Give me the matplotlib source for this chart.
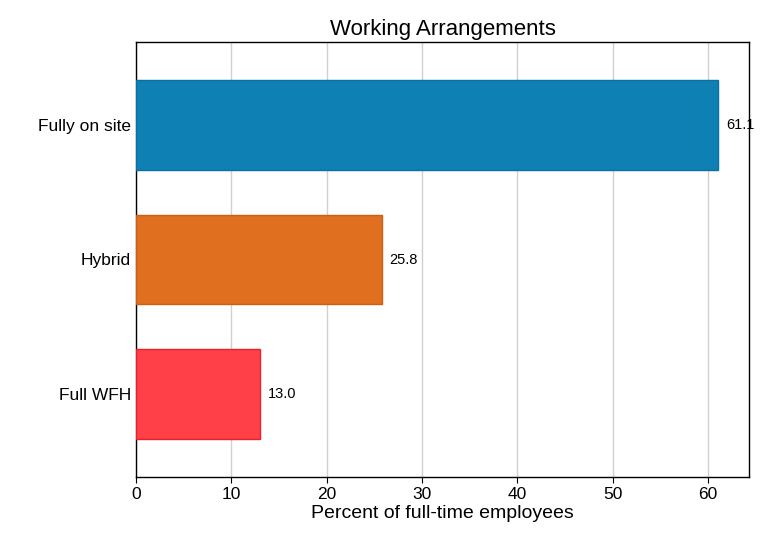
import matplotlib
matplotlib.use("Agg")
import matplotlib.pyplot as plt

plt.rcParams["font.family"] = "Liberation Sans"

categories = ["Full WFH", "Hybrid", "Fully on site"]
values = [13.0, 25.8, 61.1]
colors = ["#FF4048", "#E07020", "#0F80B4"]
edges = ["#E8202A", "#C86018", "#0A70A0"]
xticks = [0, 10, 20, 30, 40, 50, 60]

fig = plt.figure(figsize=(7.63, 5.42), dpi=100)
ax = fig.add_axes([136/763, 1-477/542, (749-136)/763, (477-42)/542])
ax.barh(range(len(categories)), values, height=0.67, color=colors, edgecolor=edges, linewidth=1, zorder=3)
for i, v in enumerate(values):
    ax.text(v + 0.8, i, f"{v:.1f}", va="center", ha="left", fontsize=10.5)
ax.set_yticks(range(len(categories)))
ax.set_yticklabels(categories, fontsize=12.5)
ax.set_xticks(xticks)
ax.set_xticklabels([str(t) for t in xticks], fontsize=12.5)
ax.set_xlim(0, 64.3)
ax.set_ylim(-0.62, 2.62)
ax.grid(axis="x", color="#d0d0d0", linewidth=1, zorder=0)
ax.set_xlabel("Percent of full-time employees", fontsize=14, labelpad=2)
ax.set_title("Working Arrangements", fontsize=16, pad=5)
for s in ax.spines.values():
    s.set_linewidth(1)
ax.tick_params(axis="y", length=0)
ax.tick_params(axis="x", length=4)
fig.savefig("out.png", dpi=100)
